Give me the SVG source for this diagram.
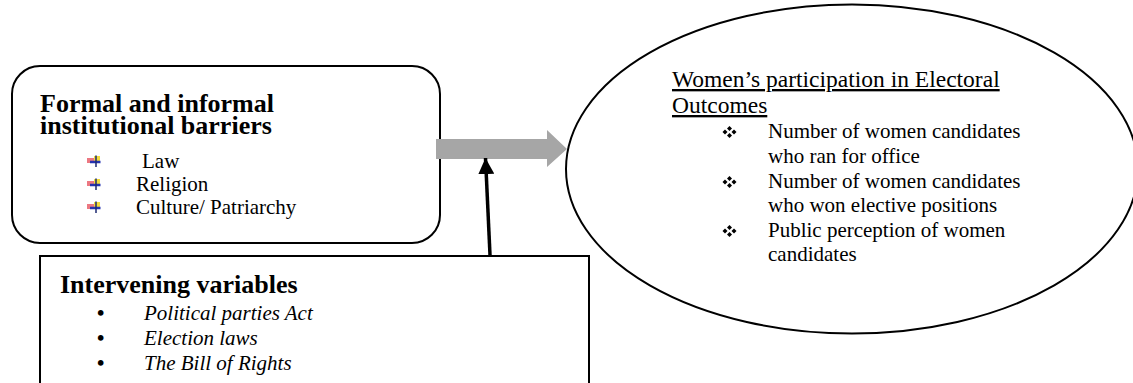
<svg xmlns="http://www.w3.org/2000/svg" width="1133" height="383" viewBox="0 0 1133 383">
<style>
  text { font-family: "Liberation Serif", "Times New Roman", serif; fill: #000; }
  .head { font-size: 26px; font-weight: bold; }
  .body { font-size: 21px; }
  .it { font-size: 21px; font-style: italic; }
  .dot { font-size: 21px; font-weight: bold; }
  .title { font-size: 23.5px; text-decoration: underline; }
  .shape { fill: #fff; stroke: #000; stroke-width: 2; }
</style>
<defs>
  <g id="pic">
    <rect x="-2" y="-12" width="6" height="6" fill="#f2dc3c"/>
    <rect x="-9" y="-10" width="7" height="5" fill="#e9606c" opacity="0.85"/>
    <line x1="-6" y1="-6" x2="4.5" y2="-6" stroke="#2433b0" stroke-width="2.5"/>
    <line x1="0" y1="-12.5" x2="0" y2="-1" stroke="#1d2a70" stroke-width="1.5"/>
  </g>
  <g id="dia" fill="#000">
    <path d="M0,-6 L2.5,-3.5 L0,-1 L-2.5,-3.5 Z"/>
    <path d="M-4.5,-2.5 L-2,0 L-4.5,2.5 L-7,0 Z"/>
    <path d="M4.5,-2.5 L7,0 L4.5,2.5 L2,0 Z"/>
    <path d="M0,1 L2.5,3.5 L0,6 L-2.5,3.5 Z"/>
  </g>
  <marker id="ah" viewBox="0 0 10 10" refX="10" refY="5" markerWidth="4.6" markerHeight="4.6" orient="auto" markerUnits="strokeWidth">
    <path d="M0,0 L10,5 L0,10 Z" fill="#000"/>
  </marker>
</defs>

<g id="node-barriers">
  <rect class="shape" x="12" y="66" width="428" height="177" rx="28" ry="28"/>
  <text class="head" x="40" y="112">Formal and informal</text>
  <text class="head" x="40" y="134">institutional barriers</text>
  <use href="#pic" x="96" y="168"/>
  <text class="body" x="142" y="168">Law</text>
  <use href="#pic" x="96" y="191"/>
  <text class="body" x="136" y="191">Religion</text>
  <use href="#pic" x="96" y="214"/>
  <text class="body" x="136" y="214">Culture/ Patriarchy</text>
</g>

<g id="node-intervening">
  <rect class="shape" x="40" y="256" width="549" height="140"/>
  <text class="head" x="60" y="293">Intervening variables</text>
  <text class="dot" x="97" y="320">•</text>
  <text class="it" x="144" y="320">Political parties Act</text>
  <text class="dot" x="97" y="345">•</text>
  <text class="it" x="144" y="345">Election laws</text>
  <text class="dot" x="97" y="370">•</text>
  <text class="it" x="144" y="370">The Bill of Rights</text>
</g>

<g id="node-outcomes">
  <ellipse class="shape" cx="852" cy="169" rx="286" ry="164.5"/>
  <text class="title" x="672" y="87">Women’s participation in Electoral</text>
  <text class="title" x="672" y="113">Outcomes</text>
  <use href="#dia" x="729.5" y="132"/>
  <text class="body" x="768" y="138">Number of women candidates</text>
  <text class="body" x="768" y="163">who ran for office</text>
  <use href="#dia" x="729.5" y="182"/>
  <text class="body" x="768" y="188">Number of women candidates</text>
  <text class="body" x="768" y="212">who won elective positions</text>
  <use href="#dia" x="729.5" y="231"/>
  <text class="body" x="768" y="237">Public perception of women</text>
  <text class="body" x="768" y="261">candidates</text>
</g>

<g id="connectors">
  <path d="M436,139 L547,139 L547,130 L567,149 L547,167 L547,159 L436,159 Z" fill="#a6a6a6"/>
  <line x1="490" y1="255" x2="485.5" y2="158" stroke="#000" stroke-width="3.5" marker-end="url(#ah)"/>
</g>
</svg>
